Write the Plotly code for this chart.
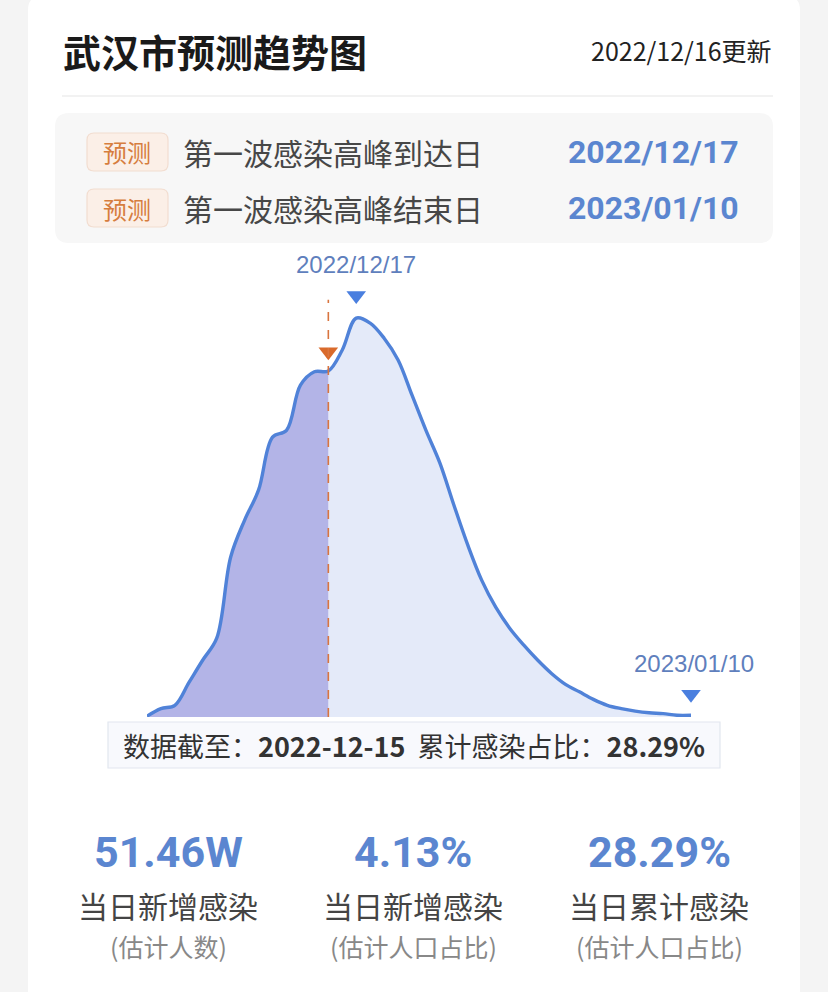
import plotly.graph_objects as go
import pandas as pd

W, H = 828, 992

# ---------------- data ----------------
dates = pd.date_range("2022-12-02", "2023-01-10", freq="D").strftime("%Y-%m-%d").tolist()
# estimated daily new infections (% of population)
daily_pct = [0.01, 0.10, 0.14, 0.41, 0.68, 0.94, 1.91, 2.35, 2.71, 3.34,
             3.42, 3.96, 4.12, 4.13, 4.38, 4.76, 4.70, 4.52, 4.26, 3.84,
             3.42, 3.03, 2.53, 2.05, 1.63, 1.31, 1.06, 0.86, 0.68, 0.52,
             0.39, 0.30, 0.21, 0.14, 0.10, 0.07, 0.05, 0.04, 0.02, 0.02]
cutoff_date = "2022-12-15"
peak_date = "2022-12-17"
end_date = "2023-01-10"

title_text = "武汉市预测趋势图"
update_text = "2022/12/16更新"
badge_text = "预测"
row_labels = ["第一波感染高峰到达日", "第一波感染高峰结束日"]
row_dates = ["2022/12/17", "2023/01/10"]
summary_label = "数据截至：<b>2022-12-15</b>  累计感染占比：<b>28.29%</b>"
stat_values = ["51.46W", "4.13%", "28.29%"]
stat_titles = ["当日新增感染", "当日新增感染", "当日累计感染"]
stat_notes = ["(估计人数)", "(估计人口占比)", "(估计人口占比)"]

# ---------------- helpers ----------------
def px(x):
    return x / W

def py(y):
    return 1 - y / H

def rrect(x0, y0, x1, y1, r):
    """rounded rectangle path in paper coordinates (pixel inputs)."""
    pts = [
        f"M {px(x0 + r)},{py(y0)}",
        f"L {px(x1 - r)},{py(y0)}",
        f"Q {px(x1)},{py(y0)} {px(x1)},{py(y0 + r)}",
        f"L {px(x1)},{py(y1 - r)}",
        f"Q {px(x1)},{py(y1)} {px(x1 - r)},{py(y1)}",
        f"L {px(x0 + r)},{py(y1)}",
        f"Q {px(x0)},{py(y1)} {px(x0)},{py(y1 - r)}",
        f"L {px(x0)},{py(y0 + r)}",
        f"Q {px(x0)},{py(y0)} {px(x0 + r)},{py(y0)}",
        "Z",
    ]
    return " ".join(pts)

CJK = "Noto Sans CJK SC"
NUM = "Roboto"
LINE = "#5082d8"
BLUE_TXT = "#5b86d0"

idx_cut = dates.index(cutoff_date)
idx_peak = dates.index(peak_date)
idx_end = dates.index(end_date)

fig = go.Figure()

# forecast area (light)
fig.add_trace(go.Scatter(
    x=dates[idx_cut:], y=daily_pct[idx_cut:], mode="lines",
    line=dict(width=0, shape="spline", smoothing=1.0),
    fill="tozeroy", fillcolor="#e4eaf9", hoverinfo="skip", showlegend=False))
# observed area (purple)
fig.add_trace(go.Scatter(
    x=dates[:idx_cut + 1], y=daily_pct[:idx_cut + 1], mode="lines",
    line=dict(width=0, shape="spline", smoothing=1.0),
    fill="tozeroy", fillcolor="#b3b4e7", hoverinfo="skip", showlegend=False))
# full curve line
fig.add_trace(go.Scatter(
    x=dates, y=daily_pct, mode="lines",
    line=dict(color=LINE, width=3.4, shape="spline", smoothing=1.0),
    hoverinfo="skip", showlegend=False))

# markers
fig.add_trace(go.Scatter(
    x=[cutoff_date], y=[daily_pct[idx_cut] + 0.23], mode="markers",
    marker=dict(symbol="triangle-down", size=17, color="#d96a2b"),
    cliponaxis=False, hoverinfo="skip", showlegend=False))
fig.add_trace(go.Scatter(
    x=[peak_date, end_date],
    y=[daily_pct[idx_peak] + 0.27, daily_pct[idx_end] + 0.25],
    mode="markers",
    marker=dict(symbol="triangle-down", size=17, color="#4a7fdf"),
    cliponaxis=False, hoverinfo="skip", showlegend=False))

shapes = []
# card
shapes.append(dict(type="path", path=rrect(28, -4, 800, 1010, 14), xref="paper", yref="paper",
                   fillcolor="#ffffff", line=dict(width=0), layer="below"))
# divider
shapes.append(dict(type="line", xref="paper", yref="paper", x0=px(62), x1=px(773), y0=py(96), y1=py(96),
                   line=dict(color="#eeeeee", width=1.5), layer="below"))
# info box
shapes.append(dict(type="path", path=rrect(55, 113, 773, 243, 14), xref="paper", yref="paper",
                   fillcolor="#f7f7f7", line=dict(width=0), layer="below"))
# badges
for yc in (152, 208):
    shapes.append(dict(type="path", path=rrect(87, yc - 19, 168, yc + 19, 7), xref="paper", yref="paper",
                       fillcolor="#fbefe7", line=dict(color="#f2ddd0", width=1.2), layer="below"))
# dashed cut-off line
fig.add_shape(type="line", xref="x", yref="y", x0=cutoff_date, x1=cutoff_date, y0=0, y1=4.98,
              line=dict(color="#d9753f", width=1.6, dash="dash"), layer="above")
# summary box
shapes.append(dict(type="rect", xref="paper", yref="paper", x0=px(108), x1=px(720), y0=py(722), y1=py(768),
                   fillcolor="#f8f9fd", line=dict(color="#e2e6ef", width=1.2), layer="above"))

for s in shapes:
    fig.add_shape(**s)

ann = []
ann.append(dict(text=f"<b>{title_text}</b>", x=px(61), y=py(50), xanchor="left", yanchor="middle",
                font=dict(family=CJK, size=38, color="#1a1a1a")))
ann.append(dict(text=update_text, x=px(774), y=py(50), xanchor="right", yanchor="middle",
                font=dict(family=CJK, size=25, color="#222222")))
for i, yc in enumerate((152, 208)):
    ann.append(dict(text=badge_text, x=px(127.5), y=py(yc), xanchor="center", yanchor="middle",
                    font=dict(family=CJK, size=24, color="#d67d3e")))
    ann.append(dict(text=row_labels[i], x=px(181), y=py(yc), xanchor="left", yanchor="middle",
                    font=dict(family=CJK, size=30, color="#474747")))
    ann.append(dict(text=f"<b>{row_dates[i]}</b>", x=px(741), y=py(yc), xanchor="right", yanchor="middle",
                    font=dict(family=NUM, size=32, color=BLUE_TXT)))
ann.append(dict(text=summary_label, x=px(414), y=py(745), xanchor="center", yanchor="middle",
                font=dict(family=CJK, size=27, color="#333333")))
for i, xc in enumerate((168, 413, 659)):
    ann.append(dict(text=f"<b>{stat_values[i]}</b>", x=px(xc), y=py(852), xanchor="center", yanchor="middle",
                    font=dict(family=NUM, size=43, color=BLUE_TXT)))
    ann.append(dict(text=stat_titles[i], x=px(xc), y=py(905), xanchor="center", yanchor="middle",
                    font=dict(family=CJK, size=30, color="#444444")))
    ann.append(dict(text=stat_notes[i], x=px(xc), y=py(946), xanchor="center", yanchor="middle",
                    font=dict(family=CJK, size=25, color="#888888")))
for a in ann:
    fig.add_annotation(xref="paper", yref="paper", showarrow=False, **a)

# date labels above blue markers
fig.add_annotation(x=peak_date, y=daily_pct[idx_peak] + 0.27, xref="x", yref="y", text=row_dates[0],
                   showarrow=False, yshift=31, font=dict(family="Liberation Sans", size=24, color="#5f7fbd"))
fig.add_annotation(x=end_date, y=daily_pct[idx_end] + 0.25, xref="x", yref="y", text=row_dates[1],
                   showarrow=False, yshift=31, xshift=3, font=dict(family="Liberation Sans", size=24, color="#5f7fbd"))

ymax = 5.7
unit = 83.8
fig.update_layout(
    width=W, height=H,
    margin=dict(l=0, r=0, t=0, b=0),
    paper_bgcolor="#f4f4f4", plot_bgcolor="rgba(0,0,0,0)",
    xaxis=dict(type="date", range=[dates[0], dates[-1]], domain=[px(147), px(691)],
               visible=False, fixedrange=True),
    yaxis=dict(range=[0, ymax], domain=[py(717), py(717 - ymax * unit)],
               visible=False, fixedrange=True),
    showlegend=False,
)

fig.write_html("out.html", config={"displayModeBar": False},
               post_script="document.body.style.margin='0';document.body.style.background='#f4f4f4';")
